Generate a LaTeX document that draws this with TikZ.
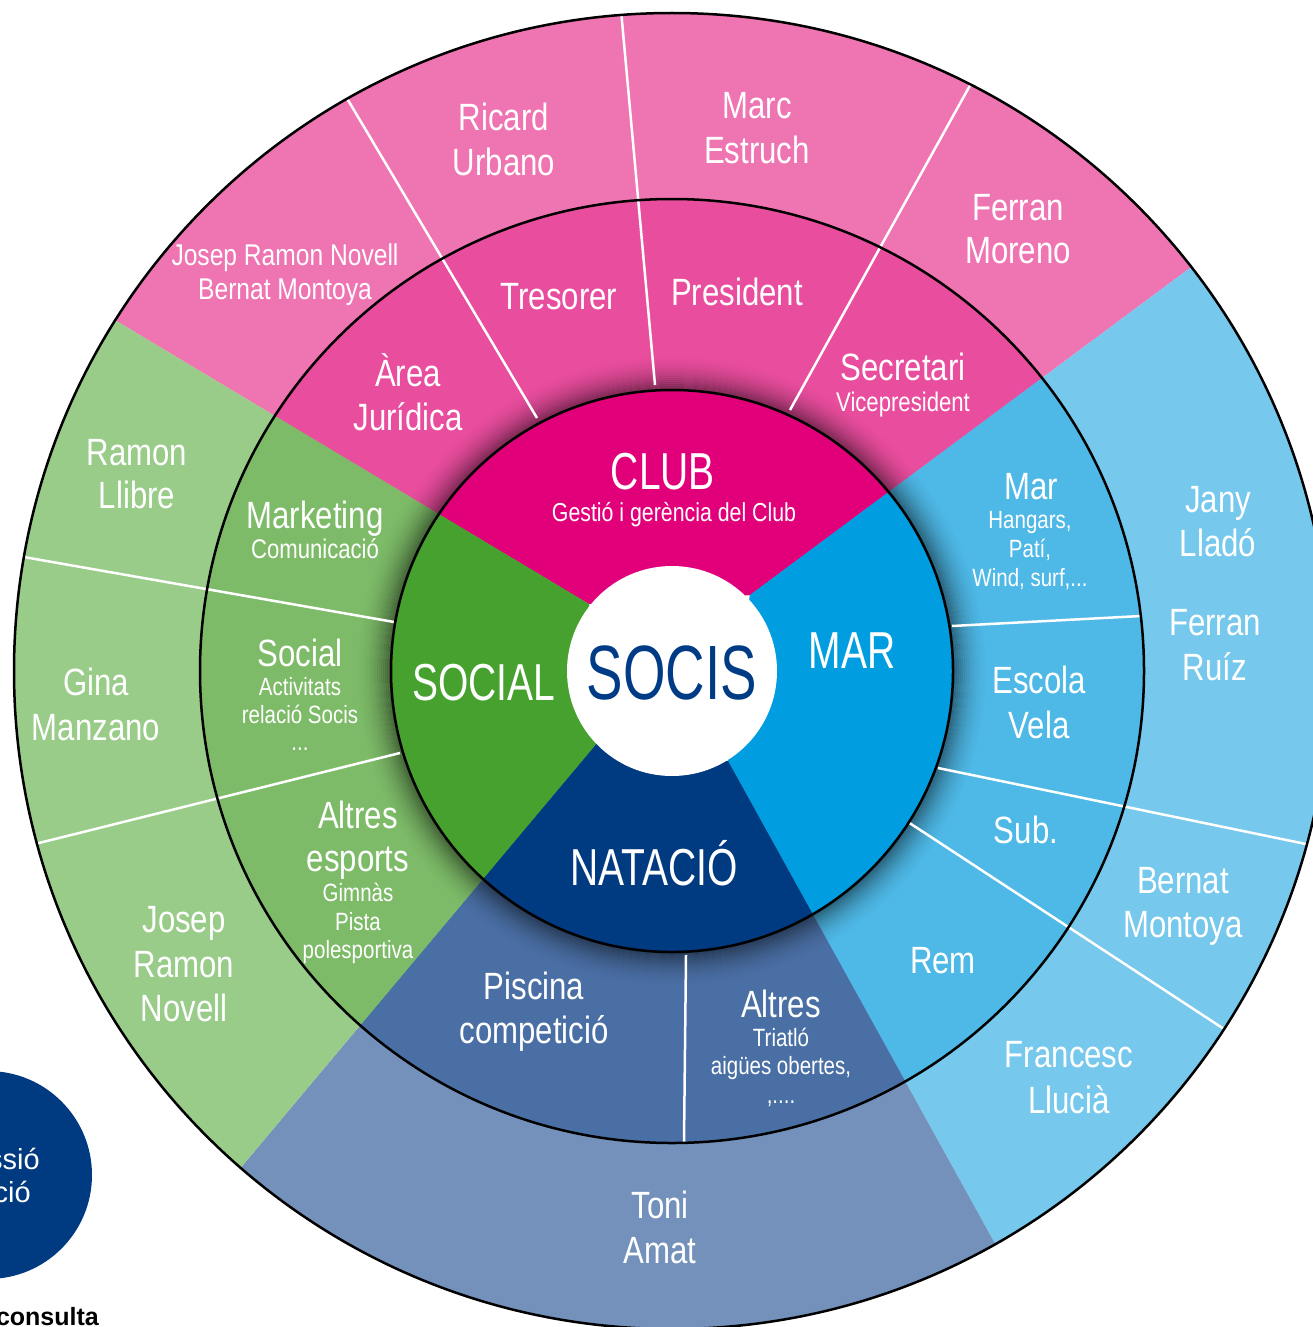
\documentclass[tikz,border=0pt]{standalone}
\usepackage{fontspec}
\setmainfont{Liberation Sans}[FakeStretch=0.82]
\newfontfamily\capsfont{Liberation Sans}[FakeStretch=0.75]
\newfontfamily\socisfont{Liberation Sans}[FakeStretch=0.71]
\newfontfamily\plainsans{Liberation Sans}
\definecolor{clubA}{HTML}{E2007A}
\definecolor{clubB}{HTML}{E94D9E}
\definecolor{clubC}{HTML}{EF74B2}
\definecolor{marA}{HTML}{009EE0}
\definecolor{marB}{HTML}{4EB8E6}
\definecolor{marC}{HTML}{76C8EC}
\definecolor{natA}{HTML}{003A80}
\definecolor{natB}{HTML}{4A6FA4}
\definecolor{natC}{HTML}{7391BB}
\definecolor{socA}{HTML}{46A12E}
\definecolor{socB}{HTML}{7DBB68}
\definecolor{socC}{HTML}{99CB89}
\definecolor{socisblue}{HTML}{003C85}
\newcommand\fCaps{\capsfont\fontsize{52}{52}\selectfont}
\newcommand\fSocis{\socisfont\fontsize{77}{77}\selectfont}
\newcommand\fMain{\fontsize{38}{38}\selectfont}
\newcommand\fSmall{\fontsize{25}{25}\selectfont}
\newcommand\fSub{\fontsize{27}{27}\selectfont}
\newcommand\fMid{\fontsize{30}{30}\selectfont}
\newcommand\fGest{\fontsize{26}{26}\selectfont}
\newcommand\drawsectors[4]{%
  \fill[#1] (P1) -- (F1) -- (F2) -- (P2) -- cycle;
  \fill[#2] (P2) -- (F2) -- (F3) -- (P3) -- cycle;
  \fill[#3] (P3) -- (F3) -- (F4) -- (P4) -- cycle;
  \fill[#4] (P4) -- (F4) -- (F1) -- (P1) -- cycle;}
\begin{document}
\begin{tikzpicture}[x=1pt,y=-1pt,
  lbl/.style={anchor=base,inner sep=0pt,outer sep=0pt,text=white},
  ringline/.style={draw=black,line width=2.5pt},
  divider/.style={draw=white,line width=2.5pt}]
\useasboundingbox (0,0) rectangle (1312,1327);
\coordinate (O) at (672,671);
\coordinate (P1) at (589,604); \coordinate (F1) at (-824,-242);
\coordinate (P2) at (750,595); \coordinate (F2) at (2070,-386);
\coordinate (P3) at (728,761); \coordinate (F3) at (1523,2198);
\coordinate (P4) at (597,743); \coordinate (F4) at (-465,2009);
% outer ring
\begin{scope}
  \clip (O) circle[radius=658pt];
  \drawsectors{clubC}{marC}{natC}{socC}
\end{scope}
% middle ring
\begin{scope}
  \clip (O) circle[radius=472pt];
  \drawsectors{clubB}{marB}{natB}{socB}
\end{scope}
% shadow around inner ring
\foreach \i in {0,...,17}{
  \pgfmathsetmacro\op{0.45*(1-\i/18)^2}
  \pgfmathsetmacro\rr{282+2*\i}
  \draw[line width=2pt,draw=black,draw opacity=\op] (O) circle[radius=\rr pt];
}
% divider lines
\coordinate (l1a) at (537,418); \coordinate (l1b) at (345,95);
\coordinate (l2a) at (655,385); \coordinate (l2b) at (621,10);
\coordinate (l3a) at (790,410); \coordinate (l3b) at (973,80);
\coordinate (l4a) at (952,626); \coordinate (l4b) at (1141,616);
\coordinate (l5a) at (938,768); \coordinate (l5b) at (1330,849);
\coordinate (l6a) at (908,822); \coordinate (l6b) at (1227,1031);
\coordinate (l7a) at (686,955); \coordinate (l7b) at (684,1142);
\coordinate (l8a) at (394,622); \coordinate (l8b) at (18,556);
\coordinate (l9a) at (400,753); \coordinate (l9b) at (35,844);
\begin{scope}
  \clip (O) circle[radius=658pt];
  \draw[divider] (l1a) -- (l1b);
  \draw[divider] (l2a) -- (l2b);
  \draw[divider] (l3a) -- (l3b);
  \draw[divider] (l4a) -- (l4b);
  \draw[divider] (l5a) -- (l5b);
  \draw[divider] (l6a) -- (l6b);
  \draw[divider] (l7a) -- (l7b);
  \draw[divider] (l8a) -- (l8b);
  \draw[divider] (l9a) -- (l9b);
\end{scope}
\draw[ringline] (O) circle[radius=658pt];
\draw[ringline] (O) circle[radius=472pt];
% inner ring
\begin{scope}
  \clip (O) circle[radius=281pt];
  \drawsectors{clubA}{marA}{natA}{socA}
\end{scope}
\draw[ringline] (O) circle[radius=281pt];
\fill[white] (O) circle[radius=105pt];
% inner labels
\node[lbl,font=\fCaps] (tClub) at (663,489) {CLUB};
\node[lbl,font=\fGest] (tGest) at (674,521) {Gestió i gerència del Club};
\node[lbl,font=\fCaps] (tSocial) at (484,700) {SOCIAL};
\node[lbl,font=\fSocis,text=socisblue] (tSocis) at (672,699) {SOCIS};
\node[lbl,font=\fCaps] (tMar) at (852,668) {MAR};
\node[lbl,font=\fCaps] (tNat) at (654,885) {NATACIÓ};
% middle ring labels
\node[lbl,font=\fMain] (m1) at (408,386) {Àrea};
\node[lbl,font=\fMain] (m2) at (408,430) {Jurídica};
\node[lbl,font=\fMain] (m3) at (559,309) {Tresorer};
\node[lbl,font=\fMain] (m4) at (737,305) {President};
\node[lbl,font=\fMain] (m5) at (903,380) {Secretari};
\node[lbl,font=\fSub] (m6) at (903,411) {Vicepresident};
\node[lbl,font=\fMain] (m7) at (1031,499) {Mar};
\node[lbl,font=\fSmall] (m8) at (1030,528) {Hangars,};
\node[lbl,font=\fSmall] (m9) at (1030,557) {Patí,};
\node[lbl,font=\fSmall] (m10) at (1030,586) {Wind, surf,...};
\node[lbl,font=\fMain] (m11) at (1039,693) {Escola};
\node[lbl,font=\fMain] (m12) at (1039,738) {Vela};
\node[lbl,font=\fMain] (m13) at (1026,843) {Sub.};
\node[lbl,font=\fMain] (m14) at (943,973) {Rem};
\node[lbl,font=\fMain] (m15) at (534,999) {Piscina};
\node[lbl,font=\fMain] (m16) at (534,1043) {competició};
\node[lbl,font=\fMain] (m17) at (781,1017) {Altres};
\node[lbl,font=\fSmall] (m18) at (781,1046) {Triatló};
\node[lbl,font=\fSmall] (m19) at (781,1074) {aigües obertes,};
\node[lbl,font=\fSmall] (m20) at (781,1103) {,....};
\node[lbl,font=\fMain] (m21) at (358,828) {Altres};
\node[lbl,font=\fMain] (m22) at (358,871) {esports};
\node[lbl,font=\fSmall] (m23) at (358,901) {Gimnàs};
\node[lbl,font=\fSmall] (m24) at (358,930) {Pista};
\node[lbl,font=\fSmall] (m25) at (358,958) {polesportiva};
\node[lbl,font=\fMain] (m26) at (300,666) {Social};
\node[lbl,font=\fSmall] (m27) at (300,695) {Activitats};
\node[lbl,font=\fSmall] (m28) at (300,723) {relació Socis};
\node[lbl,font=\fSmall] (m29) at (300,750) {...};
\node[lbl,font=\fMain] (m30) at (315,528) {Marketing};
\node[lbl,font=\fSub] (m31) at (315,558) {Comunicació};
% outer ring labels
\node[lbl,font=\fMid] (o1) at (285,265) {Josep Ramon Novell};
\node[lbl,font=\fMid] (o2) at (285,299) {Bernat Montoya};
\node[lbl,font=\fMain] (o3) at (504,131) {Ricard};
\node[lbl,font=\fMain] (o4) at (504,175) {Urbano};
\node[lbl,font=\fMain] (o5) at (757,119) {Marc};
\node[lbl,font=\fMain] (o6) at (757,163) {Estruch};
\node[lbl,font=\fMain] (o7) at (1018,220) {Ferran};
\node[lbl,font=\fMain] (o8) at (1018,263) {Moreno};
\node[lbl,font=\fMain] (o9) at (1218,512) {Jany};
\node[lbl,font=\fMain] (o10) at (1218,556) {Lladó};
\node[lbl,font=\fMain] (o11) at (1215,635) {Ferran};
\node[lbl,font=\fMain] (o12) at (1215,680) {Ruíz};
\node[lbl,font=\fMain] (o13) at (1183,893) {Bernat};
\node[lbl,font=\fMain] (o14) at (1183,937) {Montoya};
\node[lbl,font=\fMain] (o15) at (1069,1067) {Francesc};
\node[lbl,font=\fMain] (o16) at (1069,1113) {Llucià};
\node[lbl,font=\fMain] (o17) at (660,1218) {Toni};
\node[lbl,font=\fMain] (o18) at (660,1263) {Amat};
\node[lbl,font=\fMain] (o19) at (137,465) {Ramon};
\node[lbl,font=\fMain] (o20) at (137,508) {Llibre};
\node[lbl,font=\fMain] (o21) at (96,695) {Gina};
\node[lbl,font=\fMain] (o22) at (96,740) {Manzano};
\node[lbl,font=\fMain] (o23) at (184,932) {Josep};
\node[lbl,font=\fMain] (o24) at (184,977) {Ramon};
\node[lbl,font=\fMain] (o25) at (184,1021) {Novell};
% bottom-left fragment
\fill[natA] (-12,1175) circle[radius=104pt];
\node[anchor=base east,inner sep=0pt,text=white,font=\plainsans\fontsize{29}{29}\selectfont] (bl1) at (40,1169) {ssió};
\node[anchor=base east,inner sep=0pt,text=white,font=\plainsans\fontsize{29}{29}\selectfont] (bl2) at (31,1202) {ció};
\node[anchor=base east,inner sep=0pt,text=black,font=\plainsans\bfseries\fontsize{25}{25}\selectfont] (bl3) at (99,1325) {consulta};
\end{tikzpicture}
\end{document}
